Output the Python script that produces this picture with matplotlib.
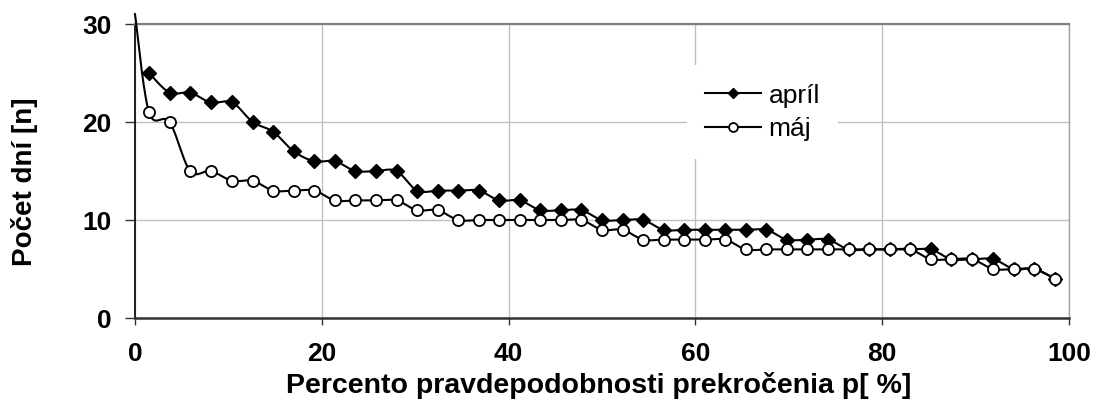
import numpy as np
import matplotlib
matplotlib.use("Agg")
import matplotlib.pyplot as plt

plt.rcParams['font.family'] = ['Liberation Sans', 'DejaVu Sans']

# percento pravdepodobnosti prekrocenia (poradie m = 1..45)
p = [1.5, 3.7, 5.9, 8.1, 10.4, 12.6, 14.8, 17.0, 19.2, 21.4,
     23.6, 25.8, 28.0, 30.2, 32.4, 34.6, 36.8, 39.0, 41.2, 43.4,
     45.6, 47.8, 50.0, 52.2, 54.4, 56.6, 58.8, 61.0, 63.2, 65.4,
     67.6, 69.8, 72.0, 74.2, 76.4, 78.6, 80.8, 83.0, 85.2, 87.4,
     89.6, 91.9, 94.1, 96.3, 98.5]

april = [25, 23, 23, 22, 22, 20, 19, 17, 16, 16,
         15, 15, 15, 13, 13, 13, 13, 12, 12, 11,
         11, 11, 10, 10, 10, 9, 9, 9, 9, 9,
         9, 8, 8, 8, 7, 7, 7, 7, 7, 6,
         6, 6, 5, 5, 4]

maj = [21, 20, 15, 15, 14, 14, 13, 13, 13, 12,
       12, 12, 12, 11, 11, 10, 10, 10, 10, 10,
       10, 10, 9, 9, 8, 8, 8, 8, 8, 7,
       7, 7, 7, 7, 7, 7, 7, 7, 6, 6,
       6, 5, 5, 5, 4]

# zaciatok krivky pre maj (p = 0 %)
maj_start = (0, 31)


def smooth(x, y, n=16):
    # excel-like smoothed line (bezier through the points)
    pts = np.column_stack([x, y]).astype(float)
    P = np.vstack([pts[0], pts, pts[-1]])
    out = []
    marks = []
    t = np.linspace(0, 1, n, endpoint=False)[:, None]
    for i in range(len(pts) - 1):
        p0, p1, p2, p3 = P[i], P[i + 1], P[i + 2], P[i + 3]
        c1 = p1 + (p2 - p0) / 6
        c2 = p2 - (p3 - p1) / 6
        seg = (1 - t)**3 * p1 + 3 * (1 - t)**2 * t * c1 + 3 * (1 - t) * t**2 * c2 + t**3 * p2
        marks.append(len(out))
        out.extend(seg)
    marks.append(len(out))
    out.append(pts[-1])
    out = np.array(out)
    return out[:, 0], out[:, 1], marks


fig = plt.figure(figsize=(10.96, 4.03), dpi=100)
ax = fig.add_axes([135 / 1096, 1 - 318 / 403, 934 / 1096, 294 / 403])

xa, ya, ma = smooth(p, april)
ax.plot(xa, ya, color='black', lw=1.5, marker='D', ms=7, mfc='black', mec='black',
        markevery=ma, label='apríl', clip_on=False, zorder=3)

xm, ym, mm = smooth([maj_start[0]] + p, [maj_start[1]] + maj)
ax.plot(xm, ym, color='black', lw=1.5, marker='o', ms=8, mfc='white', mec='black', mew=1.3,
        markevery=mm[1:], label='máj', clip_on=False, zorder=4)

ax.set_xlim(0, 100)
ax.set_ylim(0, 30)
ax.set_xticks([0, 20, 40, 60, 80, 100])
ax.set_yticks([0, 10, 20, 30])
ax.grid(True, color='#c0c0c0', lw=1)
ax.set_axisbelow(True)

ax.spines['top'].set_color('#808080')
ax.spines['top'].set_linewidth(1.6)
ax.spines['right'].set_color('#a0a0a0')
ax.spines['right'].set_linewidth(1.0)
ax.spines['left'].set_color('black')
ax.spines['left'].set_linewidth(1.2)
ax.spines['bottom'].set_color('#333333')
ax.spines['bottom'].set_linewidth(1.8)

ax.tick_params(axis='y', length=7, width=1, pad=10, labelsize=19, color='#333333')
ax.tick_params(axis='x', length=5, width=1, pad=12, labelsize=19, color='#333333')
for lab in ax.get_xticklabels() + ax.get_yticklabels():
    lab.set_fontweight('bold')

ax.set_xlabel('Percento pravdepodobnosti prekročenia p[ %]', fontsize=20.5, fontweight='bold', va='baseline')
ax.xaxis.set_label_coords(0.496, -0.255)
ax.set_ylabel('Počet dní [n]', fontsize=20, fontweight='bold', va='center')
ax.yaxis.set_label_coords(-0.118, 0.463)

leg = ax.legend(loc='center', bbox_to_anchor=(0.672, 0.70), fontsize=19, frameon=True,
                fancybox=False, framealpha=1, facecolor='white', edgecolor='none',
                handlelength=2.1, handletextpad=0.3, labelspacing=0.35, borderpad=0.7,
                markerscale=0.8)

fig.savefig('out.png', dpi=100)
